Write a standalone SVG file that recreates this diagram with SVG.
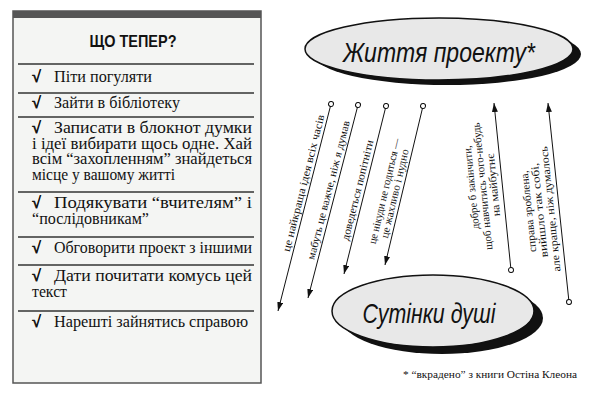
<svg xmlns="http://www.w3.org/2000/svg" width="600" height="400" viewBox="0 0 600 400">
<style>
.item{font-family:"Liberation Serif","DejaVu Serif",serif;font-size:16px;fill:#111}
.chk{font-family:"Liberation Serif","DejaVu Serif",serif;font-size:16px;font-weight:bold;fill:#111;stroke:#111;stroke-width:0.7}
.sep{stroke:#333;stroke-width:1.5}
.lbl{font-family:"Liberation Serif","DejaVu Serif",serif;font-size:11px;fill:#111;text-anchor:middle}
.big{font-family:"Liberation Sans","Arial",sans-serif;font-size:28px;font-style:italic;fill:#111;text-anchor:middle}
.conn{stroke:#111;stroke-width:1;fill:none}
.ell{fill:#e8e8e8;stroke:#111;stroke-width:1.5}
.shadow{fill:#111}
</style>
<defs>
<marker id="arr" markerUnits="userSpaceOnUse" markerWidth="10" markerHeight="6" refX="9" refY="3" orient="auto">
<path d="M0,0 L9,3 L0,6 z" fill="#111"/>
</marker>
<marker id="dot" markerUnits="userSpaceOnUse" markerWidth="8" markerHeight="8" refX="4" refY="4" orient="auto">
<circle cx="4" cy="4" r="2.5" fill="#fff" stroke="#111" stroke-width="1"/>
</marker>
</defs>
<rect width="600" height="400" fill="#fff"/>

<g id="checklist">
<rect x="13" y="11" width="248" height="372" fill="#f4f5f3" stroke="#555" stroke-width="1.5"/>
<rect x="13" y="11" width="248" height="7" fill="#555"/>
<text x="133" y="47" text-anchor="middle" font-family="'Liberation Sans',Arial,sans-serif" font-size="16.5" font-weight="bold" fill="#111" textLength="87" lengthAdjust="spacingAndGlyphs">ЩО ТЕПЕР?</text>
<line class="sep" x1="18" y1="64" x2="254" y2="64"/>
<line class="sep" x1="18" y1="93" x2="254" y2="93"/>
<line class="sep" x1="18" y1="117" x2="254" y2="117"/>
<line class="sep" x1="18" y1="192" x2="254" y2="192"/>
<line class="sep" x1="18" y1="237" x2="254" y2="237"/>
<line class="sep" x1="18" y1="265" x2="254" y2="265"/>
<line class="sep" x1="18" y1="311" x2="254" y2="311"/>

<text class="chk" x="32" y="82">√</text>
<text class="item" x="54" y="82" textLength="98" lengthAdjust="spacingAndGlyphs">Піти погуляти</text>

<text class="chk" x="32" y="108">√</text>
<text class="item" x="54" y="108" textLength="126" lengthAdjust="spacingAndGlyphs">Зайти в бібліотеку</text>

<text class="chk" x="32" y="133">√</text>
<text class="item" x="54" y="133" textLength="198" lengthAdjust="spacingAndGlyphs">Записати в блокнот думки</text>
<text class="item" x="32" y="148.5" textLength="220" lengthAdjust="spacingAndGlyphs">і ідеї вибирати щось одне. Хай</text>
<text class="item" x="32" y="164" textLength="220" lengthAdjust="spacingAndGlyphs">всім “захопленням” знайдеться</text>
<text class="item" x="32" y="180" textLength="143" lengthAdjust="spacingAndGlyphs">місце у вашому житті</text>

<text class="chk" x="32" y="208">√</text>
<text class="item" x="54" y="208" textLength="198" lengthAdjust="spacingAndGlyphs">Подякувати “вчителям” і</text>
<text class="item" x="32" y="224" textLength="117" lengthAdjust="spacingAndGlyphs">“послідовникам”</text>

<text class="chk" x="32" y="253">√</text>
<text class="item" x="54" y="253" textLength="198" lengthAdjust="spacingAndGlyphs">Обговорити проект з іншими</text>

<text class="chk" x="32" y="281">√</text>
<text class="item" x="54" y="281" textLength="198" lengthAdjust="spacingAndGlyphs">Дати почитати комусь цей</text>
<text class="item" x="32" y="297" textLength="35" lengthAdjust="spacingAndGlyphs">текст</text>

<text class="chk" x="32" y="327">√</text>
<text class="item" x="54" y="327" textLength="194" lengthAdjust="spacingAndGlyphs">Нарешті зайнятись справою</text>
</g>

<g id="life">
<ellipse class="shadow" cx="447" cy="54" rx="134" ry="31"/>
<ellipse class="ell" cx="439" cy="49" rx="134" ry="31"/>
<text class="big" x="439" y="62" textLength="192" lengthAdjust="spacingAndGlyphs">Життя проекту*</text>
</g>

<g id="dusk">
<ellipse class="shadow" cx="442" cy="318" rx="101" ry="36"/>
<ellipse class="ell" cx="433" cy="311" rx="101" ry="36"/>
<text class="big" x="429" y="323" textLength="133" lengthAdjust="spacingAndGlyphs">Сутінки душі</text>
</g>

<g id="connectors">
<line class="conn" x1="331" y1="104" x2="278" y2="311" marker-start="url(#dot)" marker-end="url(#arr)"/>
<line class="conn" x1="358" y1="105" x2="308" y2="298" marker-start="url(#dot)" marker-end="url(#arr)"/>
<line class="conn" x1="386" y1="106" x2="344" y2="274" marker-start="url(#dot)" marker-end="url(#arr)"/>
<line class="conn" x1="423" y1="106" x2="385" y2="265" marker-start="url(#dot)" marker-end="url(#arr)"/>
<line class="conn" x1="511" y1="270" x2="494" y2="103" marker-start="url(#dot)" marker-end="url(#arr)"/>
<line class="conn" x1="569" y1="302" x2="548" y2="103" marker-start="url(#dot)" marker-end="url(#arr)"/>
</g>

<g id="labels">
<text class="lbl" transform="translate(307,184) rotate(-75.6)" textLength="141" lengthAdjust="spacingAndGlyphs">це найкраща ідея всіх часів</text>
<text class="lbl" transform="translate(332,191) rotate(-75.5)" textLength="143" lengthAdjust="spacingAndGlyphs">мабуть це важче, ніж я думав</text>
<text class="lbl" transform="translate(361,191) rotate(-76)" textLength="103" lengthAdjust="spacingAndGlyphs">доведеться попітніти</text>
<text class="lbl" transform="translate(388,192) rotate(-76.6)"><tspan x="0" y="0" textLength="108" lengthAdjust="spacingAndGlyphs">це нікуди не годиться —</tspan><tspan x="0" y="10.5" textLength="91" lengthAdjust="spacingAndGlyphs">це жахливо і нудно</tspan></text>
<text class="lbl" transform="translate(475,187) rotate(-95.8)"><tspan x="0" y="0" textLength="84" lengthAdjust="spacingAndGlyphs">добре б закінчити,</tspan><tspan x="0" y="11" textLength="128" lengthAdjust="spacingAndGlyphs">щоб навчитись чого-небудь</tspan><tspan x="0" y="22" textLength="63" lengthAdjust="spacingAndGlyphs">на майбутнє</tspan></text>
<text class="lbl" transform="translate(532,211) rotate(-96)"><tspan x="0" y="0" textLength="82" lengthAdjust="spacingAndGlyphs">справа зроблена,</tspan><tspan x="0" y="11" textLength="95" lengthAdjust="spacingAndGlyphs">вийшло так собі,</tspan><tspan x="0" y="22" textLength="126" lengthAdjust="spacingAndGlyphs">але краще, ніж думалось</tspan></text>
</g>

<text x="403" y="378" font-family="'Liberation Serif','DejaVu Serif',serif" font-size="11" fill="#111" textLength="174" lengthAdjust="spacingAndGlyphs">* “вкрадено” з книги Остіна Клеона</text>
</svg>
